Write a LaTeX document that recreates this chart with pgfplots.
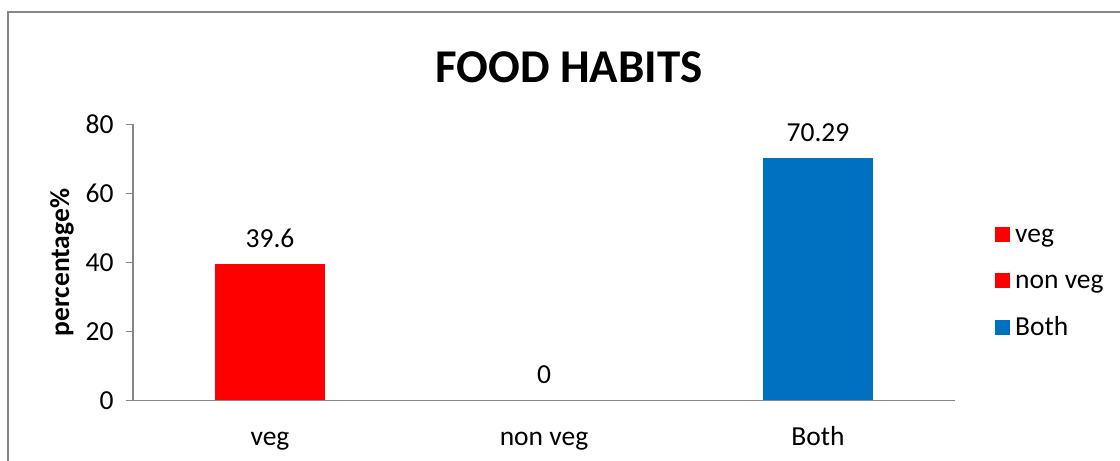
\documentclass[border=0pt]{standalone}
\usepackage{fontspec}
\setmainfont{Carlito}
\usepackage{pgfplots}
\pgfplotsset{compat=1.18}
\definecolor{axgray}{HTML}{868686}
\definecolor{bothblue}{HTML}{0070C0}
\definecolor{vegred}{HTML}{FF0000}
\begin{document}
\begin{tikzpicture}
\useasboundingbox (0,0) rectangle (1120bp,461bp);
\fill[white] (0,0) rectangle (1120bp,461bp);
\draw[axgray, line width=2bp] (8bp,0) -- (8bp,449bp) -- (1120bp,449bp);
\node[font=\fontsize{47bp}{56bp}\selectfont\bfseries] at (569bp,394bp) {FOOD HABITS};
\begin{axis}[
  at={(133bp,60.3bp)}, anchor=south west,
  scale only axis, width=822bp, height=276.4bp,
  ybar, bar width=110bp, bar shift=0pt,
  xmin=-0.5, xmax=2.5, ymin=0, ymax=80,
  xtick={0,1,2}, xticklabels={veg,non veg,Both},
  ytick={0,20,40,60,80},
  axis on top,
  axis y line*=left, axis x line*=bottom,
  axis line style={axgray, line width=1.5bp, -},
  x axis line style={shorten <=-7bp},
  major x tick style={draw=none},
  major y tick style={axgray, line width=1.5bp},
  y tick label style={xshift=-9bp},
  tick align=outside, major tick length=7bp,
  /pgf/number format/assume math mode=true,
  tick label style={font=\fontsize{27.5bp}{33bp}\selectfont},
  xticklabel style={anchor=base, yshift=-38bp},
  ylabel={percentage\%},
  every axis y label/.style={at={(rel axis cs:0,0.5)}, xshift=-71bp, rotate=90, anchor=center,
    font=\fontsize{27.5bp}{33bp}\selectfont\bfseries},
  nodes near coords,
  nodes near coords style={font=\fontsize{27.5bp}{33bp}\selectfont, black, yshift=13bp},
  legend style={draw=none, fill=none, at={(1.045,0.425)}, anchor=west,
    row sep=27bp,
    nodes={font=\fontsize{27.5bp}{33bp}\selectfont, text height=0.7em, text depth=0.22em, inner xsep=5bp},
    /tikz/every even column/.append style={column sep=0bp}},
  legend cell align=left,
  legend image code/.code={\fill[#1] (0bp,-2bp) rectangle (15bp,13bp);},
  clip=false,
]
\addplot[fill=vegred, draw=none] coordinates {(0,39.6)};
\addplot[fill=vegred, draw=none] coordinates {(1,0)};
\addplot[fill=bothblue, draw=none,
  nodes near coords={\pgfmathprintnumber[fixed,precision=2]{\pgfplotspointmeta}}] coordinates {(2,70.29)};
\legend{veg,non veg,Both}
\end{axis}
\end{tikzpicture}
\end{document}
